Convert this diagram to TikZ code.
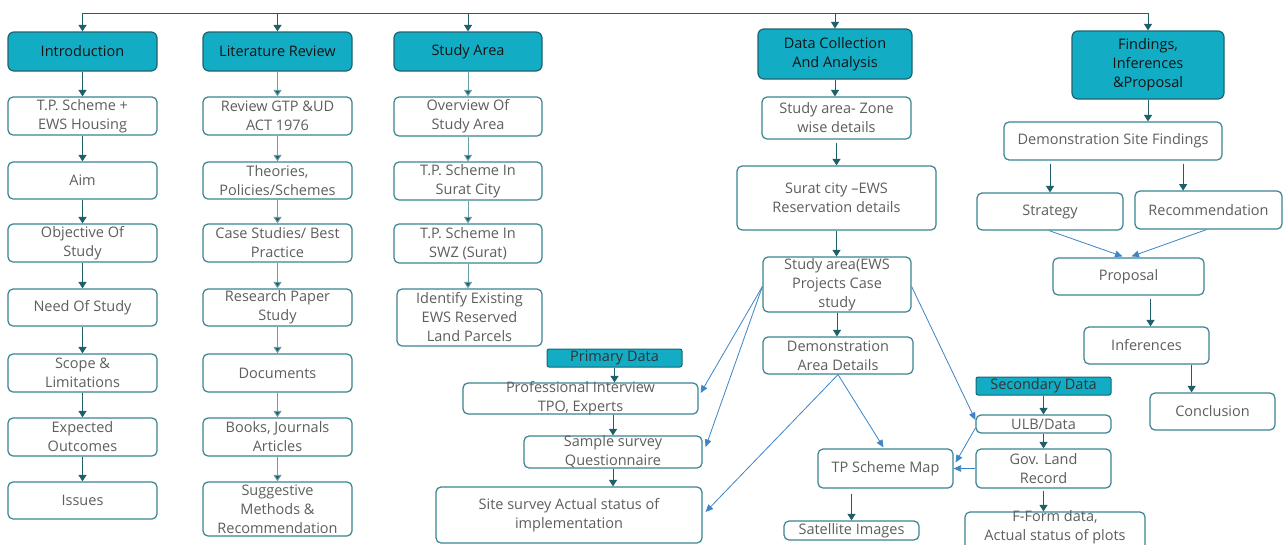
\documentclass[tikz,border=0pt]{standalone}
\usepackage{fontspec}
\setmainfont{Open Sans}
\usetikzlibrary{arrows.meta,calc}

\definecolor{hdrfill}{HTML}{12ACC4}
\definecolor{hdrline}{HTML}{1D6470}
\definecolor{boxline}{HTML}{3A838F}
\definecolor{txtgray}{HTML}{5E5E5E}
\definecolor{darkarrow}{HTML}{1E5F6A}
\definecolor{lightstem}{HTML}{6A9FA8}
\definecolor{bluelink}{HTML}{3D85C6}

\tikzset{
  every node/.style={font=\fontsize{14.5}{19}\selectfont},
  box/.style={draw=boxline, line width=1.2pt, rounded corners=5pt, fill=white, inner sep=0pt},
  hdr/.style={draw=hdrline, line width=1.2pt, rounded corners=6pt, fill=hdrfill, inner sep=0pt},
  tagbox/.style={draw=hdrline, line width=1pt, rounded corners=2pt, fill=hdrfill, inner sep=0pt},
  lbl/.style={text=txtgray, align=center, inner sep=0pt},
  hlbl/.style={text=black!92, align=center, inner sep=0pt},
  tlbl/.style={text=black!80, align=center, inner sep=0pt},
  flow/.style={draw=darkarrow, line width=1pt, -{Triangle[width=8pt,length=6.5pt]}},
  softflow/.style={draw=lightstem, line width=1pt, -{Triangle[width=8pt,length=6.5pt,fill=darkarrow]}},
  link/.style={draw=bluelink, line width=0.8pt, -{Triangle[width=6.5pt,length=7.5pt]}},
}

% name, box style, label style, x1, y1, x2, y2, text
\newcommand\placebox[8]{%
  \node[#2, minimum width={(#6-#4)*1pt}, minimum height={(#7-#5)*1pt}]
    (#1) at ({(#4+#6)/2},{(#5+#7)/2}) {};
  \node[#3] (#1-t) at (#1.center) {#8};
}

\begin{document}
\begin{tikzpicture}[x=1pt, y=-1pt]
\useasboundingbox (0,0) rectangle (1285,544);
\clip (0,0) rectangle (1285,544);
\fill[white] (0,0) rectangle (1285,544);

% ---- column headers
\placebox{hIntro}{hdr}{hlbl}{8}{32}{157}{71}{Introduction}
\placebox{hLit}{hdr}{hlbl}{203}{32}{352}{71}{Literature Review}
\placebox{hSA}{hdr}{hlbl}{394}{32}{542}{71}{Study Area}
\placebox{hDC}{hdr}{hlbl}{758}{29}{912}{79}{Data Collection\\And Analysis}
\placebox{hF}{hdr}{hlbl}{1072}{31}{1224}{99}{Findings,\\Inferences\\\&Proposal}

% ---- introduction column
\placebox{c1a}{box}{lbl}{8}{97}{157}{135}{T.P. Scheme +\\EWS Housing}
\placebox{c1b}{box}{lbl}{8}{162}{157}{199}{Aim}
\placebox{c1c}{box}{lbl}{8}{224}{157}{262}{Objective Of\\Study}
\placebox{c1d}{box}{lbl}{8}{289}{157}{326}{Need Of Study}
\placebox{c1e}{box}{lbl}{8}{354}{157}{392}{Scope \&\\Limitations}
\placebox{c1f}{box}{lbl}{8}{418}{157}{456}{Expected\\Outcomes}
\placebox{c1g}{box}{lbl}{8}{482}{157}{519}{Issues}

% ---- literature review column
\placebox{c2a}{box}{lbl}{203}{97}{352}{135}{Review GTP \&UD\\ACT 1976}
\placebox{c2b}{box}{lbl}{203}{162}{352}{199}{Theories,\\Policies/Schemes}
\placebox{c2c}{box}{lbl}{203}{224}{352}{262}{Case Studies/ Best\\Practice}
\placebox{c2d}{box}{lbl}{203}{289}{352}{326}{Research Paper\\Study}
\placebox{c2e}{box}{lbl}{203}{354}{352}{392}{Documents}
\placebox{c2f}{box}{lbl}{203}{418}{352}{456}{Books, Journals\\Articles}
\placebox{c2g}{box}{lbl}{203}{482}{352}{536}{Suggestive\\Methods \&\\Recommendation}

% ---- study area column
\placebox{c3a}{box}{lbl}{394}{97}{542}{136}{Overview Of\\Study Area}
\placebox{c3b}{box}{lbl}{394}{162}{542}{200}{T.P. Scheme In\\Surat City}
\placebox{c3c}{box}{lbl}{394}{224}{542}{263}{T.P. Scheme In\\SWZ (Surat)}
\placebox{c3d}{box}{lbl}{397}{289}{542}{346}{Identify Existing\\EWS Reserved\\Land Parcels}

% ---- primary data
\placebox{pd}{tagbox}{tlbl}{547}{349}{682}{367}{Primary Data}
\placebox{p1}{box}{lbl}{463}{383}{698}{414}{Professional Interview\\TPO, Experts}
\placebox{p2}{box}{lbl}{524}{436}{702}{468}{Sample survey\\Questionnaire}
\placebox{p3}{box}{lbl}{436}{487}{702}{543}{Site survey Actual status of\\implementation}

% ---- data collection column
\placebox{d1}{box}{lbl}{762}{97}{911}{139}{Study area- Zone\\wise details}
\placebox{d2}{box}{lbl}{737}{166}{936}{230}{Surat city –EWS\\Reservation details}
\placebox{d3}{box}{lbl}{763}{257}{911}{312}{Study area(EWS\\Projects Case\\study}
\placebox{d4}{box}{lbl}{763}{337}{913}{374}{Demonstration\\Area Details}
\placebox{d5}{box}{lbl}{818}{449}{953}{488}{TP Scheme Map}
\placebox{d6}{box}{lbl}{784}{521}{919}{540}{Satellite Images}

% ---- secondary data
\placebox{sd}{tagbox}{tlbl}{976}{377}{1111}{395}{Secondary Data}
\placebox{s1}{box}{lbl}{976}{415}{1111}{433}{ULB/Data}
\placebox{s2}{box}{lbl}{976}{449}{1111}{488}{Gov. Land\\Record}
% this box runs on past the lower edge, so its label sits above centre
\node[box, minimum width=180pt, minimum height=44pt] (s3) at (1055,534) {};
\node[lbl] (s3-t) at (1055,527) {F-Form data,\\Actual status of plots};

% ---- findings column
\placebox{f1}{box}{lbl}{1004}{122}{1222}{160}{Demonstration Site Findings}
\placebox{f2}{box}{lbl}{977}{193}{1123}{230}{Strategy}
\placebox{f3}{box}{lbl}{1135}{191}{1282}{229}{Recommendation}
\placebox{f4}{box}{lbl}{1053}{258}{1204}{295}{Proposal}
\placebox{f5}{box}{lbl}{1084}{327}{1209}{364}{Inferences}
\placebox{f6}{box}{lbl}{1150}{393}{1275}{430}{Conclusion}

% ---- top distribution bar
\coordinate (bar) at (0,13);
\draw[darkarrow, line width=1pt] (hIntro.north |- bar) -- (hF.north |- bar);
\foreach \h in {hIntro,hLit,hSA,hDC,hF}
  \draw[flow] (\h.north |- bar) -- (\h.north);

% ---- column chains
\foreach \a/\b in {hIntro/c1a,c1a/c1b,c1b/c1c,c1c/c1d,c1d/c1e,c1e/c1f,c1f/c1g}
  \draw[flow] (\a.south) -- (\b.north);
\foreach \a/\b in {hLit/c2a,c2a/c2b,c2b/c2c,c2c/c2d,c2d/c2e,c2e/c2f,c2f/c2g}
  \draw[softflow] (\a.south) -- (\b.north);
\foreach \a/\b in {hSA/c3a,c3a/c3b,c3b/c3c,c3c/c3d}
  \draw[softflow] (\a.south) -- (\a.south |- \b.north);

% ---- data collection chain
\draw[flow] (hDC.south) -- (hDC.south |- d1.north);
\draw[flow] (d1.south) ++(0,3) -- (d1.south |- d2.north);
\draw[flow] (d2.south) -- (d2.south |- d3.north);
\draw[flow] (d3.south) -- (d3.south |- d4.north);
\draw[flow] (d6.north |- d5.south) ++(0,5) -- (d6.north);

% ---- primary data chain
\draw[flow] (pd.south) -- (pd.south |- p1.north);
\draw[flow] (p2.north |- p1.south) -- (p2.north);
\draw[flow] (p2.south) -- (p2.south |- p3.north);

% ---- secondary data chain
\draw[flow] (sd.south) -- (sd.south |- s1.north);
\draw[flow] (s1.south) -- (s1.south |- s2.north);
\draw[flow] (s2.south) ++(0,2) -- (s2.south |- s3.north);

% ---- findings chain
\draw[flow] (hF.south) -- (hF.south |- f1.north);
\draw[flow] (f2.north |- f1.south) ++(0,3) -- (f2.north);
\draw[flow] ($(f1.south west)!0.82!(f1.south east)$) ++(0,3) -- ($(f1.south west)!0.82!(f1.south east) + (0,30)$);
\draw[flow] (f5.north |- f4.south) ++(4,3) -- ($(f5.north) + (4,0)$);
\draw[flow] ($(f5.south east) + (-18,0)$) -- ($(f5.south east |- f6.north) + (-18,0)$);

% ---- cross links
\draw[link] (d3.west) ++(0,2) -- ($(p1.east) + (2,-5.5)$);
\draw[link] (d3.west) ++(0,2) -- ($(p2.east) + (3,-5)$);
\draw[link] (d4.south) -- ($(p3.east) + (3,-3)$);
\draw[link] (d4.south) -- ($(d5.north) + (-2,-1)$);
\draw[link] (d3.east) ++(0,2) -- ($(s1.west) + (0,-4)$);
\draw[link] ($(s1.west) + (0,4)$) -- ($(d5.east) + (2,-6)$);
\draw[link] (s2.west) -- (s2.west -| d5.east);
\draw[link] ($(f2.south) + (-1,0)$) -- ($(f4.north) + (-6,-1)$);
\draw[link] ($(f3.south) + (-2,0)$) -- ($(f4.north) + (3,-1)$);
\end{tikzpicture}
\end{document}
